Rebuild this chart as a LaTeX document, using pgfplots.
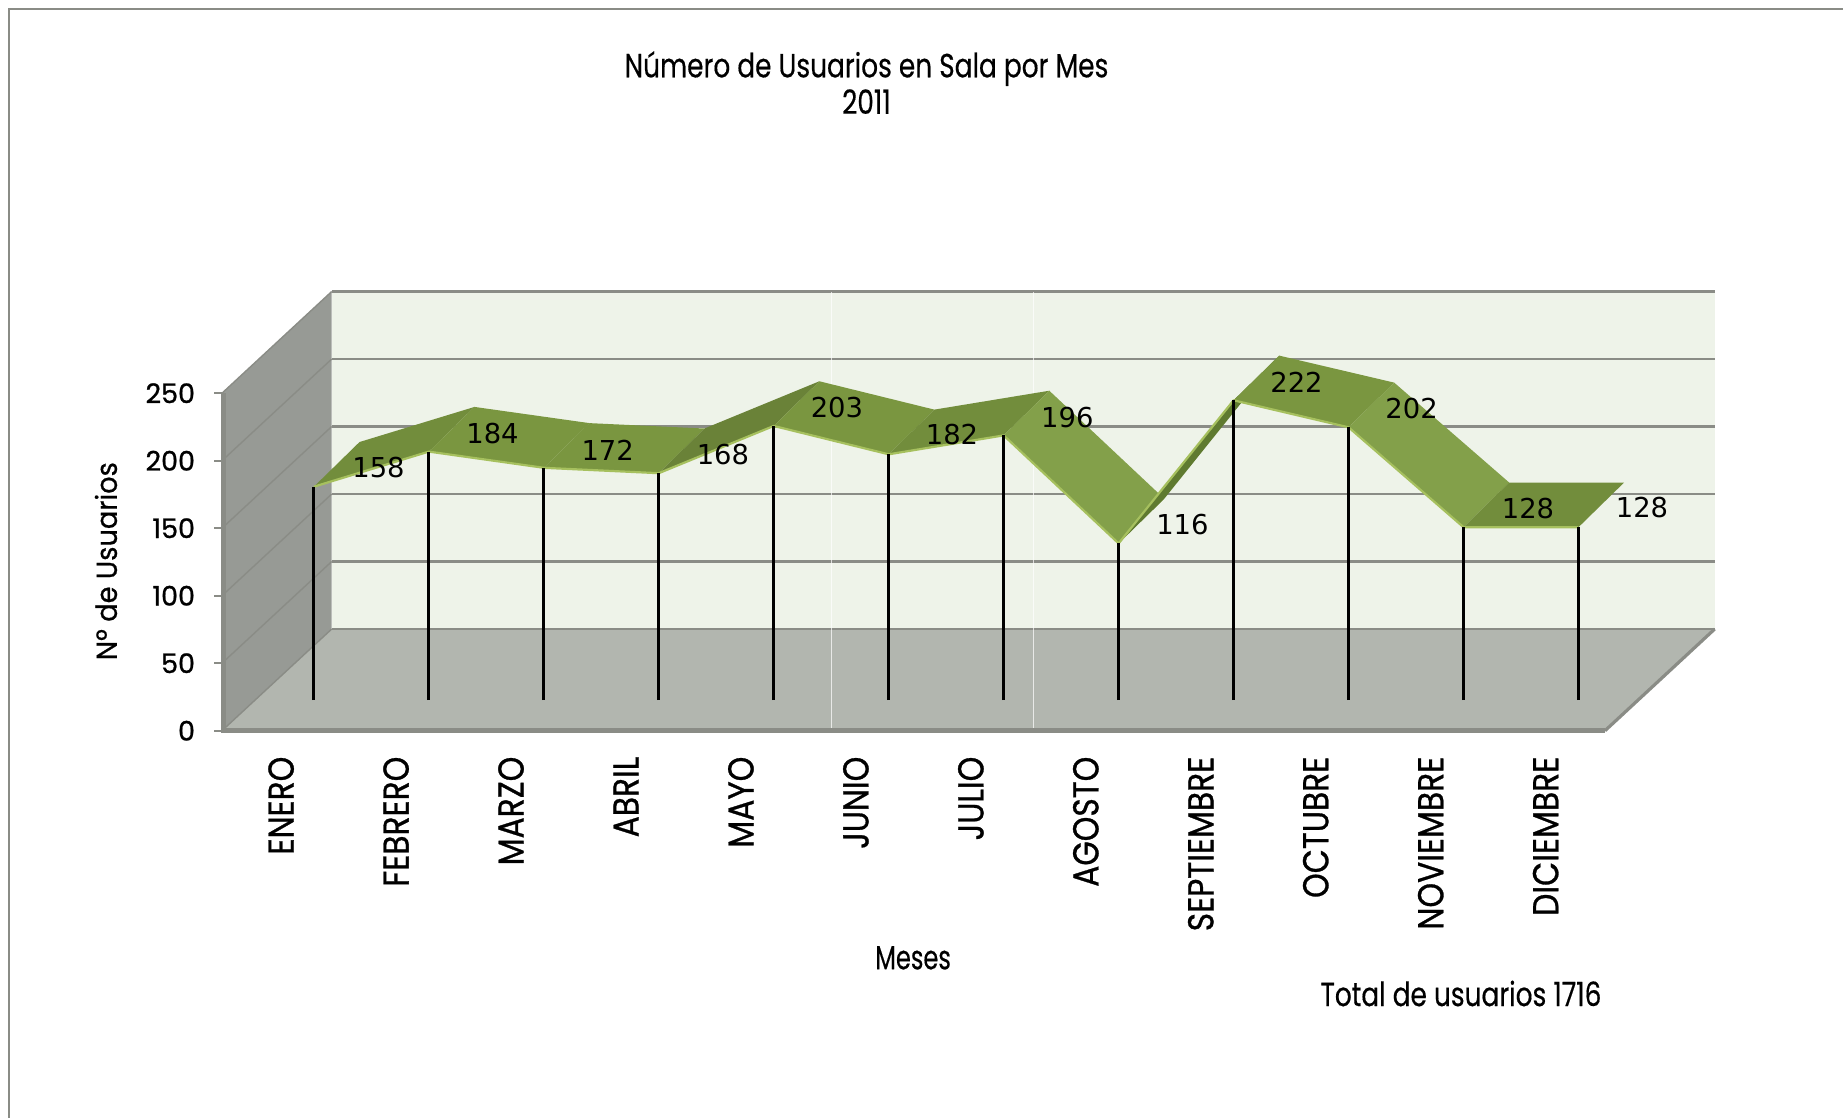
\documentclass[border=0pt]{standalone}
\usepackage{fontspec}
\usepackage{pgfplots}
\pgfplotsset{compat=1.18}
\setmainfont{Poppins}
\newfontfamily\tf[FakeStretch=0.79,FakeBold=0.4]{Poppins}
\newfontfamily\mf[FakeStretch=0.72,FakeBold=0.4]{Poppins}
\newfontfamily\xf[FakeStretch=0.87,FakeBold=0.8]{Poppins}
\newfontfamily\lf[FakeStretch=0.94,FakeBold=0.6]{Poppins}
\newfontfamily\yf[FakeBold=0.9]{Poppins}
\newfontfamily\df{DejaVu Sans}
\definecolor{wallc}{HTML}{EEF3E9}
\definecolor{floorc}{HTML}{B2B6AF}
\definecolor{sidec}{HTML}{979A95}
\definecolor{gridc}{HTML}{8A8C86}
\definecolor{edgec}{HTML}{A6C05E}
\definecolor{ra}{HTML}{728D3C}
\definecolor{rb}{HTML}{7A9640}
\definecolor{rc}{HTML}{6A8238}
\definecolor{rd}{HTML}{83A04A}
\definecolor{re}{HTML}{5F7A30}
\pgfplotsset{
  quad/.style={draw=none,fill=#1,forget plot,mark=none},
  rib/.style={draw=none,fill=#1,forget plot,mark=none,xshift=17.2pt,yshift=15.35pt}
}
\begin{document}
\begin{tikzpicture}
\path[use as bounding box] (0,0) rectangle (921.5pt,-559pt);
\draw[color=gridc,line width=0.8pt] (4.6pt,-559pt) -- (4.6pt,-4.6pt) -- (921.5pt,-4.6pt);
\begin{axis}[
  at={(111pt,-365.35pt)}, anchor=south west,
  scale only axis, width=691.5pt, height=168.75pt,
  xmin=-0.5, xmax=11.53, ymin=0, ymax=250,
  clip=false,
  axis line style={draw=none},
  xtick={0,1,2,3,4,5,6,7,8,9,10,11},
  xticklabels={ENERO,FEBRERO,MARZO,ABRIL,MAYO,JUNIO,JULIO,AGOSTO,SEPTIEMBRE,OCTUBRE,NOVIEMBRE,DICIEMBRE},
  ytick={0,50,100,150,200,250},
  ytick pos=left, tick align=outside,
  xtick pos=bottom,
  x tick style={draw=none},
  y tick style={color=gridc,line width=0.8pt}, major tick length=4pt,
  /pgf/number format/assume math mode=true,
  xticklabel style={rotate=90,anchor=east,font=\xf\fontsize{18}{20}\selectfont,xshift=-8.8pt,yshift=-0.8pt,inner sep=0pt},
  yticklabel style={font=\yf\fontsize{13.5}{15}\selectfont,xshift=-9.3pt,inner sep=0pt},
  title={Número de Usuarios en Sala por Mes\\[1.6pt]2011},
  title style={at={(0.466,1.885)},anchor=center,align=center,font=\tf\fontsize{16.7}{16.7}\selectfont},
  xlabel={Meses},
  xlabel style={at={(0.4997,-0.673)},anchor=center,font=\mf\fontsize{16.7}{16.7}\selectfont},
  ylabel={Nº de Usuarios},
  ylabel style={at={(-0.0839,0.5025)},anchor=center,font=\lf\fontsize{14.5}{15}\selectfont},
]
% walls and floor
\addplot[quad=wallc] coordinates {(0.454,75.3)(12.484,75.3)(12.484,325.3)(0.454,325.3)} -- cycle;
\addplot[quad=floorc] coordinates {(-0.5,0)(11.53,0)(12.484,75.3)(0.454,75.3)} -- cycle;
\addplot[quad=sidec] coordinates {(-0.5,0)(-0.5,250)(0.454,325.3)(0.454,75.3)} -- cycle;
% grid on the back wall
\addplot[color=gridc,line width=1.1pt,forget plot] coordinates {(0.454,75.3)(12.484,75.3)};
\addplot[color=gridc,line width=1.1pt,forget plot] coordinates {(0.454,125.3)(12.484,125.3)};
\addplot[color=gridc,line width=1.1pt,forget plot] coordinates {(0.454,175.3)(12.484,175.3)};
\addplot[color=gridc,line width=1.1pt,forget plot] coordinates {(0.454,225.3)(12.484,225.3)};
\addplot[color=gridc,line width=1.1pt,forget plot] coordinates {(0.454,275.3)(12.484,275.3)};
\addplot[color=gridc,line width=1.1pt,forget plot] coordinates {(0.454,325.3)(12.484,325.3)};
% grid on the side wall
\addplot[color=gridc,line width=0.7pt,forget plot] coordinates {(-0.5,50)(0.454,125.3)};
\addplot[color=gridc,line width=0.7pt,forget plot] coordinates {(-0.5,100)(0.454,175.3)};
\addplot[color=gridc,line width=0.7pt,forget plot] coordinates {(-0.5,150)(0.454,225.3)};
\addplot[color=gridc,line width=0.7pt,forget plot] coordinates {(-0.5,200)(0.454,275.3)};
\addplot[color=gridc,line width=0.7pt,forget plot] coordinates {(-0.5,250)(0.454,325.3)};
\addplot[color=gridc,line width=0.7pt,forget plot] coordinates {(-0.5,0)(0.454,75.3)};
% thin pale seams of the picture
\addplot[color=white,opacity=0.7,line width=0.4pt,forget plot] coordinates {(4.8,0)(4.8,325)};
\addplot[color=white,opacity=0.7,line width=0.4pt,forget plot] coordinates {(6.56,0)(6.56,325)};
% edges of the floor and the side wall
\addplot[color=gridc,line width=1.6pt,forget plot] coordinates {(11.53,0)(12.484,75.3)};
\addplot[color=gridc,line width=2.4pt,forget plot] coordinates {(-0.49,250)(-0.49,0)(11.53,0)};
% ribbon faces
\addplot[rib=ra] coordinates {(0,158)(1,184)(1.397,217.1)(0.397,191.1)} -- cycle;
\addplot[rib=rb] coordinates {(1,184)(2,172)(2.397,205.1)(1.397,217.1)} -- cycle;
\addplot[rib=rb] coordinates {(2,172)(3,168)(3.397,201.1)(2.397,205.1)} -- cycle;
\addplot[rib=rc] coordinates {(3,168)(4,203)(4.397,236.1)(3.397,201.1)} -- cycle;
\addplot[rib=rb] coordinates {(4,203)(5,182)(5.397,215.1)(4.397,236.1)} -- cycle;
\addplot[rib=ra] coordinates {(5,182)(6,196)(6.397,229.1)(5.397,215.1)} -- cycle;
\addplot[rib=rd] coordinates {(6,196)(7,116)(7.397,149.1)(6.397,229.1)} -- cycle;
\addplot[rib=re] coordinates {(7,116)(8,222)(8.397,255.1)(7.397,149.1)} -- cycle;
\addplot[rib=rb] coordinates {(8,222)(9,202)(9.397,235.1)(8.397,255.1)} -- cycle;
\addplot[rib=rd] coordinates {(9,202)(10,128)(10.397,161.1)(9.397,235.1)} -- cycle;
\addplot[rib=ra] coordinates {(10,128)(11,128)(11.397,161.1)(10.397,161.1)} -- cycle;
% the series: its front edge and its drop lines
\addplot[color=edgec,line width=1.1pt,mark=none,xshift=17.2pt,yshift=15.35pt,line join=round] coordinates {
 (0,158)(1,184)(2,172)(3,168)(4,203)(5,182)(6,196)(7,116)(8,222)(9,202)(10,128)(11,128)};
\addplot[ycomb,color=black,line width=1.4pt,mark=none,xshift=17.2pt,yshift=15.35pt] coordinates {
 (0,158)(1,184)(2,172)(3,168)(4,203)(5,182)(6,196)(7,116)(8,222)(9,202)(10,128)(11,128)};
\end{axis}
\begin{scope}[x=0.5pt,y=-0.5pt,every node/.style={font=\df\fontsize{13.7}{15}\selectfont,inner sep=0pt}]
\node at (378.5,467.8) {158};
\node at (492.5,433.7) {184};
\node at (607.7,450.2) {172};
\node at (722.9,454.9) {168};
\node at (836.9,407.9) {203};
\node at (952,434.9) {182};
\node at (1067.3,417.3) {196};
\node at (1182.4,524.2) {116};
\node at (1296.5,382) {222};
\node at (1411.6,409) {202};
\node at (1528,509) {128};
\node at (1642,507.8) {128};
\node[font=\tf\fontsize{16.7}{16.7}\selectfont] at (1461,993.5) {Total de usuarios 1716};
\end{scope}
\end{tikzpicture}
\end{document}
